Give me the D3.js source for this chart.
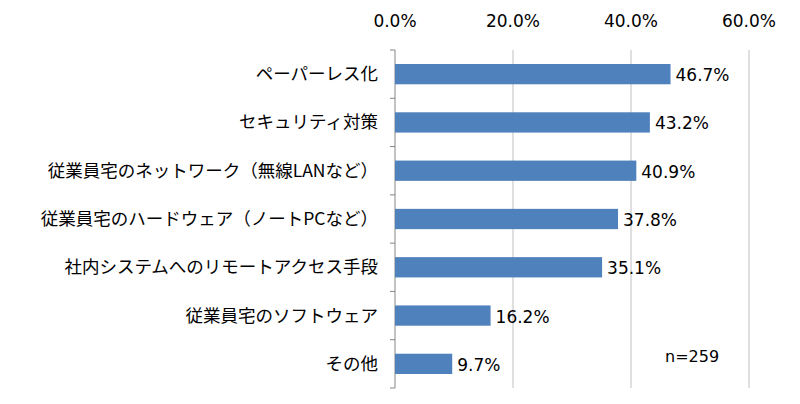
<!DOCTYPE html>
<html><head><meta charset="utf-8">
<script src="https://cdn.jsdelivr.net/npm/d3@7"></script>
<style>body{margin:0;background:#fff}text{font-family:"Noto Sans CJK JP",sans-serif;fill:#000}</style>
</head><body><svg id="c" width="800" height="404"></svg>
<script>
var categories = ['ペーパーレス化','セキュリティ対策','従業員宅のネットワーク（無線LANなど）','従業員宅のハードウェア（ノートPCなど）','社内システムへのリモートアクセス手段','従業員宅のソフトウェア','その他'];
var values = [46.7, 43.2, 40.9, 37.8, 35.1, 16.2, 9.7];
var ticks = [0, 20, 40, 60];

var svg = d3.select('#c');
var x = d3.scaleLinear().domain([0, 60]).range([395, 749]);
var y = d3.scaleBand().domain(categories).range([50, 388]).paddingInner(0.58).paddingOuter(0.29);

svg.selectAll('.grid').data(ticks.slice(1)).enter().append('line')
  .attr('x1', d => x(d)).attr('x2', d => x(d)).attr('y1', 50).attr('y2', 388)
  .attr('stroke', '#bfbfbf');
svg.append('line').attr('x1', 395).attr('x2', 395).attr('y1', 50).attr('y2', 388).attr('stroke', '#868686');
var bounds = d3.range(categories.length + 1).map(i => 50 + i * (338 / categories.length));
svg.selectAll('.tk').data(bounds).enter().append('line')
  .attr('x1', 390).attr('x2', 395).attr('y1', d => d).attr('y2', d => d).attr('stroke', '#868686');

svg.selectAll('.tl').data(ticks).enter().append('text')
  .attr('x', d => x(d)).attr('y', 27).attr('text-anchor', 'middle')
  .style('font-size', '17px').style('font-family', 'DejaVu Sans')
  .text(d => d.toFixed(1) + '%');

svg.selectAll('.bar').data(values).enter().append('rect')
  .attr('x', x(0)).attr('y', (d, i) => y(categories[i]))
  .attr('width', d => x(d) - x(0)).attr('height', y.bandwidth())
  .attr('fill', '#4f81bd');

svg.selectAll('.vl').data(values).enter().append('text')
  .attr('x', d => x(d) + 5).attr('y', (d, i) => y(categories[i]) + y.bandwidth() / 2 + 7)
  .style('font-size', '17px').style('font-family', 'DejaVu Sans')
  .text(d => d.toFixed(1) + '%');

svg.selectAll('.cl').data(categories).enter().append('text')
  .attr('x', 378).attr('y', d => y(d) + y.bandwidth() / 2 + 6).attr('text-anchor', 'end')
  .style('font-size', '17.5px').text(d => d);

svg.append('text').attr('x', 665).attr('y', 362).style('font-size', '16px')
  .style('font-family', 'DejaVu Sans').text('n=259');
</script></body></html>
